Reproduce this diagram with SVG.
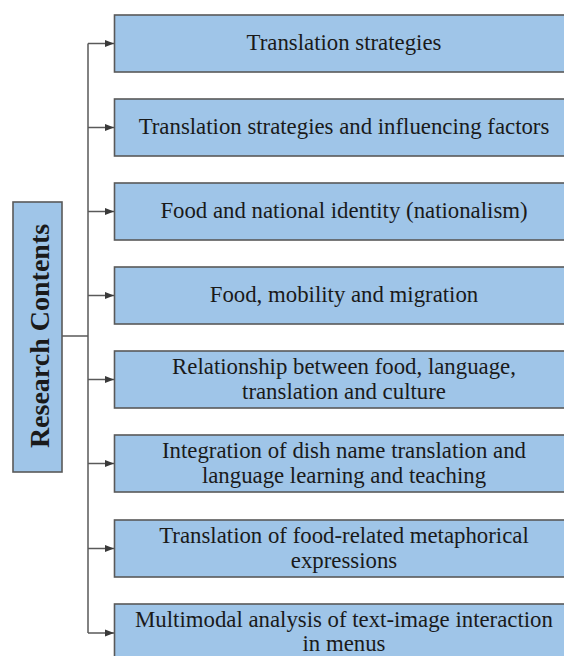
<svg xmlns="http://www.w3.org/2000/svg" width="564" height="656" viewBox="0 0 564 656">
  <defs>
    <marker id="arrow" viewBox="0 0 10 10" refX="10" refY="5" markerWidth="9" markerHeight="9" markerUnits="userSpaceOnUse" orient="auto">
      <path d="M0,1 L10,5 L0,9 Z" fill="#3a3a3a"/>
    </marker>
  </defs>
  <style>
    .box { fill: #9fc5e8; stroke: #595959; stroke-width: 1.6; }
    .label { font-family: "Liberation Serif", "Times New Roman", serif; font-size: 22.8px; fill: #1a1a1a; text-anchor: middle; }
    .title { font-family: "Liberation Serif", "Times New Roman", serif; font-size: 28px; font-weight: bold; fill: #1a1a1a; text-anchor: middle; }
    .link { fill: none; stroke: #595959; stroke-width: 1.5; }
  </style>
  <rect width="564" height="656" fill="#ffffff"/>

  <!-- connectors: trunk from the root node, spine, and one branch per topic -->
  <g id="connectors">
    <path class="link" d="M62,336 H88"/>
    <path class="link" d="M88,43.5 V633"/>
    <path class="link" d="M88,43.5 H114" marker-end="url(#arrow)"/>
    <path class="link" d="M88,127.5 H114" marker-end="url(#arrow)"/>
    <path class="link" d="M88,211.5 H114" marker-end="url(#arrow)"/>
    <path class="link" d="M88,295.5 H114" marker-end="url(#arrow)"/>
    <path class="link" d="M88,379.5 H114" marker-end="url(#arrow)"/>
    <path class="link" d="M88,463.5 H114" marker-end="url(#arrow)"/>
    <path class="link" d="M88,548.5 H114" marker-end="url(#arrow)"/>
    <path class="link" d="M88,633 H114" marker-end="url(#arrow)"/>
  </g>

  <!-- root node -->
  <g id="research-contents">
    <rect class="box" x="13" y="202" width="49" height="270"/>
    <text class="title" transform="translate(49,336) rotate(-90)">Research Contents</text>
  </g>

  <g id="topic-1">
    <rect class="box" x="114.5" y="15" width="460" height="57"/>
    <text class="label" x="344" y="50">Translation strategies</text>
  </g>
  <g id="topic-2">
    <rect class="box" x="114.5" y="99" width="460" height="57"/>
    <text class="label" x="344" y="134">Translation strategies and influencing factors</text>
  </g>
  <g id="topic-3">
    <rect class="box" x="114.5" y="183" width="460" height="57"/>
    <text class="label" x="344" y="218">Food and national identity (nationalism)</text>
  </g>
  <g id="topic-4">
    <rect class="box" x="114.5" y="267" width="460" height="57"/>
    <text class="label" x="344" y="302">Food, mobility and migration</text>
  </g>
  <g id="topic-5">
    <rect class="box" x="114.5" y="351" width="460" height="57"/>
    <text class="label" x="344" y="374">Relationship between food, language,</text>
    <text class="label" x="344" y="399">translation and culture</text>
  </g>
  <g id="topic-6">
    <rect class="box" x="114.5" y="435" width="460" height="57"/>
    <text class="label" x="344" y="458">Integration of dish name translation and</text>
    <text class="label" x="344" y="483">language learning and teaching</text>
  </g>
  <g id="topic-7">
    <rect class="box" x="114.5" y="520" width="460" height="57"/>
    <text class="label" x="344" y="543">Translation of food-related metaphorical</text>
    <text class="label" x="344" y="568">expressions</text>
  </g>
  <g id="topic-8">
    <rect class="box" x="114.5" y="604" width="460" height="57"/>
    <text class="label" x="344" y="627">Multimodal analysis of text-image interaction</text>
    <text class="label" x="344" y="651">in menus</text>
  </g>
</svg>
